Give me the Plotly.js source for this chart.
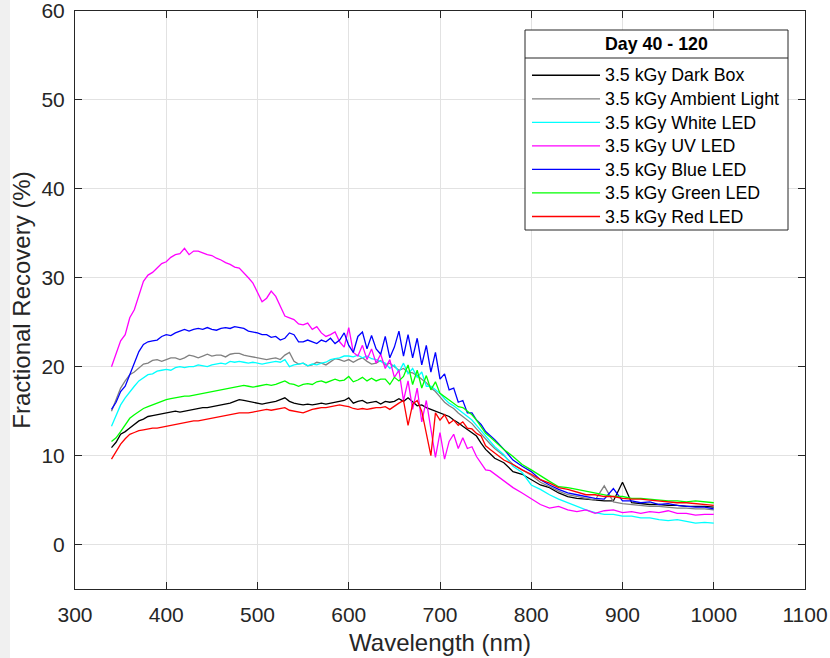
<!DOCTYPE html>
<html>
<head>
<meta charset="utf-8">
<script src="https://cdn.plot.ly/plotly-3.0.1.min.js"></script>
<style>html,body{margin:0;padding:0;background:#fff;}#chart{width:830px;height:658px;}</style>
</head>
<body>
<div id="chart"></div>
<script>
var wavelength = [
340,345,350,355,360,365,370,375,380,385,
390,395,400,405,410,415,420,425,430,435,
440,445,450,455,460,465,470,475,480,485,
490,495,500,505,510,515,520,525,530,535,
540,545,550,555,560,565,570,575,580,585,
590,595,600,605,610,615,620,625,630,635,
640,645,650,655,660,665,670,675,680,685,
690,695,700,705,710,715,720,725,730,735,
740,745,750,755,760,
770,780,790,800,810,820,830,840,850,860,
870,880,890,900,910,920,930,940,950,960,
970,980,990,1000];

var darkBox = [
10.9,11.5,12.4,12.7,13.1,13.5,13.9,14.1,14.4,14.5,
14.6,14.7,14.8,14.9,15.0,14.9,15.0,15.1,15.2,15.3,
15.4,15.4,15.5,15.6,15.7,15.8,15.9,16.1,16.3,16.2,
16.1,16.0,15.9,15.8,15.9,16.0,16.1,16.3,16.5,16.1,
15.9,15.8,15.7,15.8,15.7,15.8,15.9,15.8,15.9,16.0,
16.1,16.2,16.5,15.9,16.1,16.2,15.9,16.0,16.1,15.8,
16.1,16.0,16.1,16.4,16.1,16.5,16.1,15.6,15.7,15.4,
15.2,15.0,14.8,14.6,14.4,14.0,13.7,13.3,12.9,12.6,
12.2,11.4,10.7,10.2,9.7,
9.2,8.2,7.9,7.3,6.7,6.4,5.8,5.4,5.2,5.1,
5.0,4.9,4.9,7.0,4.7,4.6,4.5,4.5,4.4,4.4,
4.3,4.3,4.3,4.2];

var ambientLight = [
15.0,16.2,17.6,18.4,19.1,19.4,19.8,20.3,20.4,20.7,
20.8,20.6,20.8,21.0,21.0,20.8,21.0,21.3,21.2,21.0,
21.2,21.4,21.2,21.3,21.3,21.1,21.4,21.5,21.5,21.3,
21.2,21.1,21.0,20.9,20.8,20.9,21.0,20.8,21.3,21.6,
20.6,20.3,20.4,20.1,20.2,20.5,20.4,20.2,20.6,20.9,
20.8,20.6,20.8,20.5,20.8,21.0,20.6,20.3,20.4,20.7,
20.2,20.4,20.0,19.6,19.8,19.4,19.3,19.0,18.6,18.2,
17.6,17.2,16.6,16.0,15.6,15.3,14.8,14.4,14.0,13.6,
13.0,12.4,11.8,11.3,10.8,
10.0,9.0,8.4,7.8,7.0,6.5,6.0,5.6,5.4,5.2,
5.0,6.6,4.8,4.6,4.5,4.4,4.3,4.3,4.2,4.1,
4.1,4.0,4.0,3.9];

var whiteLED = [
13.3,14.6,15.7,16.5,17.2,17.8,18.4,18.8,19.1,19.2,
19.5,19.6,19.7,19.6,19.9,20.0,19.9,20.0,20.0,20.2,
20.1,20.0,20.2,20.3,20.4,20.3,20.6,20.5,20.6,20.5,
20.4,20.5,20.4,20.3,20.4,20.5,20.6,20.5,20.8,20.0,
20.2,20.3,20.4,20.1,20.3,20.2,20.4,20.5,20.8,20.9,
21.0,21.2,21.2,21.1,21.3,21.0,21.2,20.9,20.8,20.6,
20.4,19.8,20.2,19.4,20.4,19.2,19.8,18.8,19.4,17.8,
17.8,17.4,17.0,16.4,15.9,15.6,15.2,14.8,14.4,14.0,
13.4,12.8,12.2,11.6,11.0,
10.1,8.8,8.1,6.7,6.2,5.6,5.1,4.7,4.3,3.9,
3.6,3.4,3.4,3.2,3.2,3.0,3.0,2.8,2.7,2.8,
2.6,2.4,2.5,2.4];

var uvLED = [
20.0,21.4,22.9,23.6,25.5,26.4,27.9,29.6,30.3,30.6,
31.1,31.6,31.8,32.3,32.6,32.7,33.3,32.6,33.0,33.0,
32.8,32.6,32.5,32.2,32.0,31.7,31.5,31.2,31.1,30.6,
30.0,29.4,28.3,27.3,27.7,28.5,27.9,26.8,25.7,25.5,
25.3,24.8,24.7,24.9,24.2,24.5,23.8,23.4,23.6,23.9,
22.8,22.2,24.4,21.6,21.2,22.4,20.8,22.0,20.4,21.4,
19.8,20.8,18.8,19.6,16.2,18.4,15.2,17.6,13.8,16.2,
13.2,9.8,12.6,9.6,11.6,12.4,10.8,12.0,10.8,11.0,
9.9,9.2,8.4,8.3,7.9,
7.1,6.4,5.8,5.1,4.5,4.1,4.3,3.9,3.7,3.9,
3.5,3.8,3.9,3.6,3.7,3.5,3.7,3.6,3.8,3.5,
3.5,3.3,3.4,3.4];

var blueLED = [
15.2,16.0,17.2,17.8,19.1,20.3,21.7,22.5,22.8,22.9,
23.0,23.4,23.6,23.5,23.8,24.0,24.2,24.0,24.2,24.3,
24.2,24.4,24.2,24.1,24.3,24.4,24.3,24.5,24.4,24.3,
24.0,23.9,23.8,23.6,23.6,23.3,23.4,23.0,23.2,23.8,
23.6,22.8,22.8,23.0,22.8,22.6,23.0,22.8,23.2,22.6,
23.0,23.8,22.4,21.6,23.4,23.9,22.0,23.5,22.0,21.4,
23.4,21.0,22.2,24.0,21.2,23.6,21.0,23.2,20.2,22.4,
19.4,21.6,18.6,19.2,17.4,17.6,16.0,16.2,14.8,14.8,
14.0,13.5,12.7,12.3,11.8,
10.7,9.5,8.8,8.2,7.3,6.7,6.2,5.8,5.6,5.4,
5.2,5.1,6.3,4.9,4.9,4.7,4.8,4.5,4.6,4.4,
4.3,4.2,4.2,4.0];

var greenLED = [
11.6,12.0,12.7,13.5,14.2,14.6,15.0,15.3,15.5,15.7,
15.9,16.1,16.3,16.4,16.5,16.6,16.7,16.7,16.8,16.9,
17.0,17.1,17.2,17.3,17.4,17.5,17.6,17.7,17.8,17.9,
17.8,17.7,17.8,17.9,18.0,17.9,18.0,18.2,18.4,18.1,
18.0,17.8,18.0,18.1,18.0,18.3,18.4,18.2,18.4,18.6,
18.4,18.5,18.9,18.3,18.5,18.8,18.4,18.7,18.4,18.6,
18.6,18.0,18.8,18.4,18.9,20.2,18.0,19.6,17.6,19.0,
17.4,18.3,17.0,16.6,16.3,15.9,15.5,15.4,15.0,14.6,
14.0,13.3,12.5,12.1,11.6,
10.7,9.9,9.0,8.4,7.7,7.1,6.5,6.4,6.2,6.0,
5.8,5.6,5.4,5.4,5.2,5.2,5.1,5.0,4.9,4.9,
4.8,4.9,4.8,4.7];

var redLED = [
9.6,10.4,11.3,11.9,12.4,12.6,12.8,12.9,13.0,13.1,
13.1,13.2,13.3,13.4,13.5,13.6,13.7,13.8,13.9,13.9,
14.0,14.1,14.2,14.3,14.4,14.5,14.6,14.7,14.8,14.8,
14.8,14.9,15.0,15.1,15.2,15.1,15.2,15.3,15.4,15.1,
15.0,14.9,14.8,15.0,15.2,15.3,15.4,15.4,15.5,15.6,
15.7,15.6,15.5,15.3,15.2,15.3,15.2,15.3,15.4,15.4,
15.5,15.2,15.6,15.9,16.2,13.4,15.8,16.2,15.0,12.4,
10.0,14.8,14.0,14.6,13.6,14.0,13.4,13.8,13.1,13.0,
12.5,12.2,11.1,10.7,10.3,
9.5,9.0,8.4,7.9,7.3,6.9,6.4,6.2,5.9,5.6,
5.6,5.4,5.4,5.2,5.1,5.1,5.0,4.9,4.8,4.7,
4.7,4.6,4.5,4.4];

var seriesNames = ['3.5 kGy Dark Box','3.5 kGy Ambient Light','3.5 kGy White LED','3.5 kGy UV LED','3.5 kGy Blue LED','3.5 kGy Green LED','3.5 kGy Red LED'];
var seriesValues = [darkBox, ambientLight, whiteLED, uvLED, blueLED, greenLED, redLED];
var seriesColors = ['#000000','#808080','#00ffff','#ff00ff','#0000ff','#00ff00','#ff0000'];
var legendTitle = 'Day 40 - 120';
var xTickVals = [300,400,500,600,700,800,900,1000,1100];
var yTickVals = [0,10,20,30,40,50,60];

var FONT = 'Liberation Sans, Arial, Helvetica, sans-serif';
var AX = '#262626';

var traces = seriesValues.map(function(v, i){
  return {x: wavelength, y: v, type: 'scatter', mode: 'lines',
          name: '<span style="font-size:17.8px">' + seriesNames[i] + '</span>',
          line: {color: seriesColors[i], width: 1.3}};
});

var L = 75, R = 25, T = 11, B = 69, W = 830, H = 658;
var pw = W - L - R, ph = H - T - B;
function px(x){ return (x - L) / pw; }
function py(y){ return (H - B - y) / ph; }

var layout = {
  width: W, height: H,
  margin: {l: L, r: R, t: T, b: B, pad: 0},
  paper_bgcolor: '#ffffff', plot_bgcolor: '#ffffff',
  font: {family: FONT, color: AX},
  showlegend: true,
  legend: {x: px(527), y: py(58.5), xanchor: 'left', yanchor: 'top', bgcolor: 'rgba(0,0,0,0)', borderwidth: 0,
           font: {size: 15.8, color: '#000000', family: FONT}, itemwidth: 68, tracegroupgap: 0},
  xaxis: {range: [300, 1100], tickvals: xTickVals, ticks: 'inside', ticklen: 7, tickcolor: AX,
          showline: true, linecolor: AX, linewidth: 1, mirror: 'ticks', showgrid: true, gridcolor: '#e2e2e2',
          zeroline: false, tickfont: {size: 21, color: AX, family: FONT}, ticklabelstandoff: 7, ticklabeloverflow: 'allow',
          title: {text: 'Wavelength (nm)', font: {size: 24, color: AX, family: FONT}, standoff: 8}, automargin: false},
  yaxis: {range: [-5, 60], tickvals: yTickVals, ticks: 'inside', ticklen: 7, tickcolor: AX,
          showline: true, linecolor: AX, linewidth: 1, mirror: 'ticks', showgrid: true, gridcolor: '#e2e2e2',
          zeroline: false, tickfont: {size: 21, color: AX, family: FONT}, ticklabelstandoff: 5, ticklabeloverflow: 'allow',
          title: {text: 'Fractional Recovery (%)', font: {size: 24, color: AX, family: FONT}, standoff: 4}, automargin: false},
  shapes: [
    {type: 'rect', xref: 'paper', yref: 'paper', x0: px(0), x1: px(10), y0: py(H), y1: py(0), layer: 'below',
     fillcolor: '#f0f0f0', line: {width: 0}},
    {type: 'rect', xref: 'paper', yref: 'paper', x0: px(525), x1: px(788), y0: py(230), y1: py(30), layer: 'above',
     fillcolor: '#ffffff', line: {color: AX, width: 1}},
    {type: 'line', xref: 'paper', yref: 'paper', x0: px(525), x1: px(788), y0: py(58), y1: py(58), layer: 'above',
     line: {color: AX, width: 1}}
  ],
  annotations: [
    {text: '<b>' + legendTitle + '</b>', xref: 'paper', yref: 'paper', x: px(656.5), y: py(44), xanchor: 'center', yanchor: 'middle',
     showarrow: false, font: {size: 17.8, color: '#000000', family: FONT}}
  ]
};

Plotly.newPlot('chart', traces, layout, {displayModeBar: false, staticPlot: true});
</script>
</body>
</html>
